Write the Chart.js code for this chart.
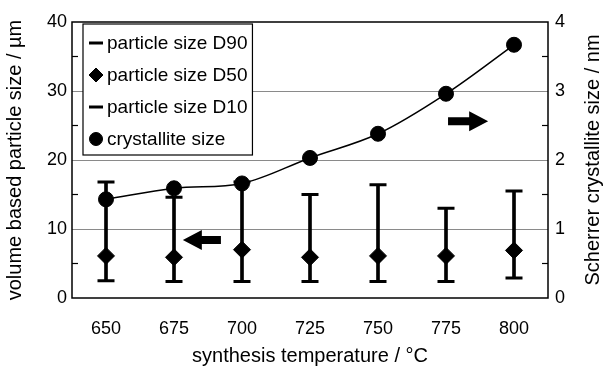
<!DOCTYPE html>
<html>
<head>
<meta charset="utf-8">
<script src="https://cdn.jsdelivr.net/npm/chart.js@4.4.1/dist/chart.umd.min.js"></script>
<style>
  html, body { margin: 0; padding: 0; background: #fff; }
  #wrap { width: 603px; height: 372px; }
</style>
</head>
<body>
<div id="wrap"><canvas id="c"></canvas></div>
<script>
// data
const temps = ['650', '675', '700', '725', '750', '775', '800'];
const d90 = [16.8, 14.6, 16.8, 15.0, 16.4, 13.0, 15.5];
const d50 = [6.1, 5.9, 7.0, 5.9, 6.1, 6.1, 6.9];
const d10 = [2.5, 2.4, 2.4, 2.4, 2.4, 2.4, 2.9];
const crystallite = [1.43, 1.59, 1.66, 2.03, 2.38, 2.96, 3.67];
const leftTicks = [0, 10, 20, 30, 40];
const rightTicks = [0, 1, 2, 3, 4];
// arrows: tail index -> head index, at a left-axis value
const arrows = [
  { from: 1.69, to: 1.13, y: 8.4 },
  { from: 5.03, to: 5.62, y: 25.6 }
];

const FONT = "'Liberation Sans', Arial, Helvetica, sans-serif";

// frame, inner minor ticks, arrows, right title and boxed legend
const decorPlugin = {
  id: 'decor',
  afterDatasetsDraw(chart) {
    const ctx = chart.ctx;
    const a = chart.chartArea;
    const y = chart.scales.y, y1 = chart.scales.y1, x = chart.scales.x;
    ctx.save();
    ctx.strokeStyle = '#000';
    ctx.lineWidth = 1.5;
    ctx.strokeRect(a.left, a.top, a.right - a.left, a.bottom - a.top);

    // minor ticks pointing inward
    ctx.lineWidth = 1.2;
    [5, 15, 25, 35].forEach(v => {
      const py = y.getPixelForValue(v);
      ctx.beginPath(); ctx.moveTo(a.left, py); ctx.lineTo(a.left + 6, py); ctx.stroke();
    });
    [0.5, 1.5, 2.5, 3.5].forEach(v => {
      const py = y1.getPixelForValue(v);
      ctx.beginPath(); ctx.moveTo(a.right, py); ctx.lineTo(a.right - 6, py); ctx.stroke();
    });

    // arrows
    ctx.fillStyle = '#000';
    arrows.forEach(ar => {
      const x0 = x.getPixelForValue(ar.from), x1 = x.getPixelForValue(ar.to);
      const py = y.getPixelForValue(ar.y);
      const dir = Math.sign(x1 - x0);
      const head = 19, half = 10, body = 4;
      const xb = x1 - dir * head;
      ctx.beginPath();
      ctx.moveTo(x0, py - body);
      ctx.lineTo(xb, py - body);
      ctx.lineTo(xb, py - half);
      ctx.lineTo(x1, py);
      ctx.lineTo(xb, py + half);
      ctx.lineTo(xb, py + body);
      ctx.lineTo(x0, py + body);
      ctx.closePath();
      ctx.fill();
    });

    // right axis title, reading bottom to top
    ctx.font = '20px ' + FONT;
    ctx.textAlign = 'center';
    ctx.textBaseline = 'middle';
    ctx.translate(593, (a.top + a.bottom) / 2);
    ctx.rotate(-Math.PI / 2);
    ctx.fillText('Scherrer crystallite size / nm', 0, 0);
    ctx.restore();

    // legend in a box
    ctx.save();
    ctx.font = '19px ' + FONT;
    const items = chart.data.datasets.filter(d => d.label);
    let tw = 0;
    items.forEach(d => { tw = Math.max(tw, ctx.measureText(d.label).width); });
    const bx = a.left + 11, by = a.top + 2;
    const bw = 24 + tw + 5, bh = 131;
    ctx.fillStyle = '#fff';
    ctx.fillRect(bx, by, bw, bh);
    ctx.strokeStyle = '#000';
    ctx.lineWidth = 1.2;
    ctx.strokeRect(bx, by, bw, bh);
    ctx.textBaseline = 'middle';
    ctx.textAlign = 'left';
    items.forEach((d, i) => {
      const cy = by + 19 + i * 32;
      ctx.fillStyle = '#000';
      ctx.strokeStyle = '#000';
      ctx.lineWidth = d.pointStyle === 'line' ? 3 : 1;
      const r = d.pointStyle === 'circle' ? 6.5 : 7;
      Chart.helpers.drawPoint(ctx, { pointStyle: d.pointStyle, radius: r, borderWidth: ctx.lineWidth, rotation: 0 }, bx + 13, cy);
      ctx.fillText(d.label, bx + 24, cy + 1);
    });
    ctx.restore();
  }
};

new Chart(document.getElementById('c'), {
  type: 'bar',
  data: {
    labels: temps,
    datasets: [
      {
        type: 'bar',
        data: d10.map((v, i) => [v, d90[i]]),
        backgroundColor: '#000',
        barThickness: 3,
        yAxisID: 'y',
        order: 9
      },
      {
        type: 'line', label: 'particle size D90', data: d90, yAxisID: 'y',
        showLine: false, pointStyle: 'line', pointRadius: 8.5, pointBorderWidth: 3,
        borderColor: '#000', backgroundColor: '#000', order: 3
      },
      {
        type: 'line', label: 'particle size D50', data: d50, yAxisID: 'y',
        showLine: false, pointStyle: 'rectRot', pointRadius: 8.5, pointBorderWidth: 1,
        borderColor: '#000', backgroundColor: '#000', order: 2
      },
      {
        type: 'line', label: 'particle size D10', data: d10, yAxisID: 'y',
        showLine: false, pointStyle: 'line', pointRadius: 8.5, pointBorderWidth: 3,
        borderColor: '#000', backgroundColor: '#000', order: 4
      },
      {
        type: 'line', label: 'crystallite size', data: crystallite, yAxisID: 'y1',
        borderColor: '#000', borderWidth: 1.5, tension: 0.35,
        pointStyle: 'circle', pointRadius: 7.5, pointBorderWidth: 1,
        pointBackgroundColor: '#000', pointBorderColor: '#000', order: 1
      }
    ]
  },
  options: {
    responsive: true,
    maintainAspectRatio: false,
    animation: false,
    layout: { padding: { top: 22, left: 0, right: 0, bottom: 0 } },
    plugins: { legend: { display: false }, tooltip: { enabled: false } },
    scales: {
      x: {
        offset: true,
        grid: { display: false, drawTicks: false },
        border: { display: false },
        ticks: { color: '#000', font: { family: FONT, size: 18 }, padding: 20, maxRotation: 0 },
        title: { display: true, text: 'synthesis temperature / °C', color: '#000',
                 font: { family: FONT, size: 20, lineHeight: 1 }, padding: { top: 6, bottom: 6 } },
        afterFit: s => { s.height = 74; }
      },
      y: {
        position: 'left', min: 0, max: 40,
        afterBuildTicks: s => { s.ticks = leftTicks.map(v => ({ value: v })); },
        grid: { color: c => (c.tick && (c.tick.value === 0 || c.tick.value === 40)) ? 'rgba(0,0,0,0)' : '#8a8a8a',
                lineWidth: 1, drawTicks: false },
        border: { display: false },
        ticks: { color: '#000', font: { family: FONT, size: 18 }, padding: 5 },
        title: { display: true, text: 'volume based particle size / µm', color: '#000',
                 font: { family: FONT, size: 20, lineHeight: 1 }, padding: { top: 5, bottom: 5 } },
        afterFit: s => { s.width = 72; }
      },
      y1: {
        position: 'right', min: 0, max: 4,
        afterBuildTicks: s => { s.ticks = rightTicks.map(v => ({ value: v })); },
        grid: { display: false, drawTicks: false },
        border: { display: false },
        ticks: { color: '#000', font: { family: FONT, size: 18 }, padding: 7 },
        afterFit: s => { s.width = 55; }
      }
    }
  },
  plugins: [decorPlugin]
});
</script>
</body>
</html>
